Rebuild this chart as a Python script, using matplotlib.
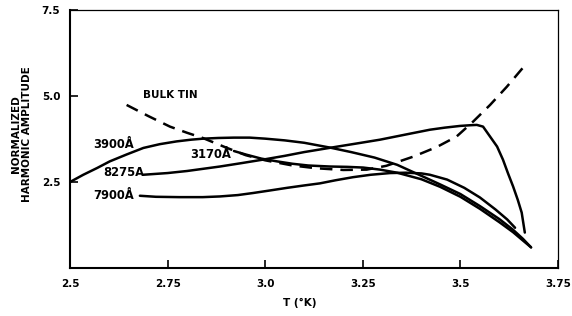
import matplotlib

matplotlib.use("Agg")
import matplotlib.pyplot as plt

# ---- data (T in K, normalized amplitude) ----
t_3900 = [2.50, 2.534, 2.57, 2.602, 2.645, 2.688, 2.73, 2.773, 2.81, 2.841, 2.88, 2.92,
          2.96, 3.00, 3.05, 3.10, 3.166, 3.22, 3.28, 3.338, 3.40, 3.448, 3.50, 3.55,
          3.60, 3.635, 3.66, 3.681]
a_3900 = [2.50, 2.71, 2.91, 3.10, 3.30, 3.49, 3.60, 3.68, 3.73, 3.76, 3.78, 3.79,
          3.79, 3.76, 3.71, 3.64, 3.50, 3.37, 3.21, 3.00, 2.68, 2.43, 2.15, 1.80,
          1.42, 1.11, 0.85, 0.60]

t_3170 = [2.92, 2.95, 2.99, 3.03, 3.07, 3.11, 3.166, 3.21, 3.251, 3.294, 3.338, 3.40,
          3.448, 3.50, 3.55, 3.60, 3.635, 3.66, 3.681]
a_3170 = [3.40, 3.30, 3.18, 3.10, 3.03, 2.98, 2.95, 2.94, 2.92, 2.86, 2.77, 2.58,
          2.36, 2.07, 1.72, 1.33, 1.04, 0.80, 0.60]

t_8275 = [2.687, 2.75, 2.80, 2.884, 2.94, 2.994, 3.05, 3.10, 3.18, 3.24, 3.294, 3.36,
          3.422, 3.46, 3.499, 3.525, 3.542, 3.558, 3.576, 3.594, 3.609, 3.622, 3.635,
          3.647, 3.657, 3.665]
a_8275 = [2.71, 2.76, 2.82, 2.95, 3.05, 3.15, 3.26, 3.37, 3.52, 3.63, 3.73, 3.88,
          4.02, 4.08, 4.13, 4.15, 4.16, 4.11, 3.82, 3.53, 3.15, 2.75, 2.37,
          1.98, 1.61, 1.03]

t_7900 = [2.679, 2.72, 2.78, 2.84, 2.884, 2.93, 2.969, 3.01, 3.056, 3.10, 3.14, 3.18,
          3.225, 3.27, 3.32, 3.36, 3.40, 3.422, 3.466, 3.51, 3.55, 3.59, 3.62, 3.64]
a_7900 = [2.10, 2.07, 2.06, 2.06, 2.08, 2.12, 2.18, 2.25, 2.33, 2.40, 2.46, 2.55,
          2.64, 2.71, 2.76, 2.77, 2.75, 2.71, 2.57, 2.33, 2.05, 1.70, 1.41, 1.17]

t_bulk = [2.645, 2.70, 2.756, 2.80, 2.84, 2.90, 2.95, 3.00, 3.07, 3.13, 3.20, 3.26,
          3.31, 3.38, 3.44, 3.49, 3.533, 3.576, 3.619, 3.666]
a_bulk = [4.74, 4.42, 4.11, 3.93, 3.78, 3.50, 3.28, 3.13, 2.98, 2.90, 2.85, 2.86,
          2.97, 3.24, 3.52, 3.82, 4.26, 4.74, 5.27, 5.90]

labels = [("3900Å", 2.559, 3.58, 8.3), ("8275A", 2.585, 2.79, 8.3),
          ("7900Å", 2.559, 2.12, 8.3), ("3170Å", 2.807, 3.29, 8.3),
          ("BULK TIN", 2.687, 5.03, 7.5)]

x_ticks = [2.5, 2.75, 3.0, 3.25, 3.5, 3.75]
x_ticklabels = ["2.5", "2.75", "3.0", "3.25", "3.5", "3.75"]
y_ticks = [2.5, 5.0, 7.5]
y_ticklabels = ["2.5", "5.0", "7.5"]

plt.rcParams["font.family"] = "DejaVu Sans"
plt.rcParams["font.weight"] = "bold"

fig = plt.figure(figsize=(5.72, 3.16), dpi=100)
ax = fig.add_axes([70 / 572, 1 - 268 / 316, 488 / 572, 258 / 316])

kw = dict(color="black", lw=1.8, solid_capstyle="round", solid_joinstyle="round")
ax.plot(t_3900, a_3900, **kw)
ax.plot(t_3170, a_3170, **kw)
ax.plot(t_8275, a_8275, **kw)
ax.plot(t_7900, a_7900, **kw)
ax.plot(t_bulk, a_bulk, color="black", lw=1.8, linestyle=(0, (5, 3.2)),
        dash_capstyle="butt")

for txt, x, y, fs in labels:
    ax.text(x, y, txt, fontsize=fs, fontweight="bold", ha="left", va="center")

ax.set_xlim(2.5, 3.75)
ax.set_ylim(0, 7.5)
ax.set_xticks(x_ticks)
ax.set_xticklabels(x_ticklabels)
ax.set_yticks(y_ticks)
ax.set_yticklabels(y_ticklabels)
ax.tick_params(direction="in", length=6, width=1.2, labelsize=7.5)
ax.tick_params(axis="x", pad=8)
ax.tick_params(axis="y", pad=7)

for side in ["left", "bottom"]:
    ax.spines[side].set_linewidth(1.5)
for side in ["top", "right"]:
    ax.spines[side].set_linewidth(0.9)

ax.set_xlabel("T (°K)", fontsize=7.5, fontweight="bold")
ax.xaxis.set_label_coords(0.47, -0.115)
ax.set_ylabel("NORMALIZED\nHARMONIC AMPLITUDE", fontsize=7.5, fontweight="bold",
              linespacing=1.1)
ax.yaxis.set_label_coords(-0.078, 0.52)

fig.savefig("out.png", dpi=100)
